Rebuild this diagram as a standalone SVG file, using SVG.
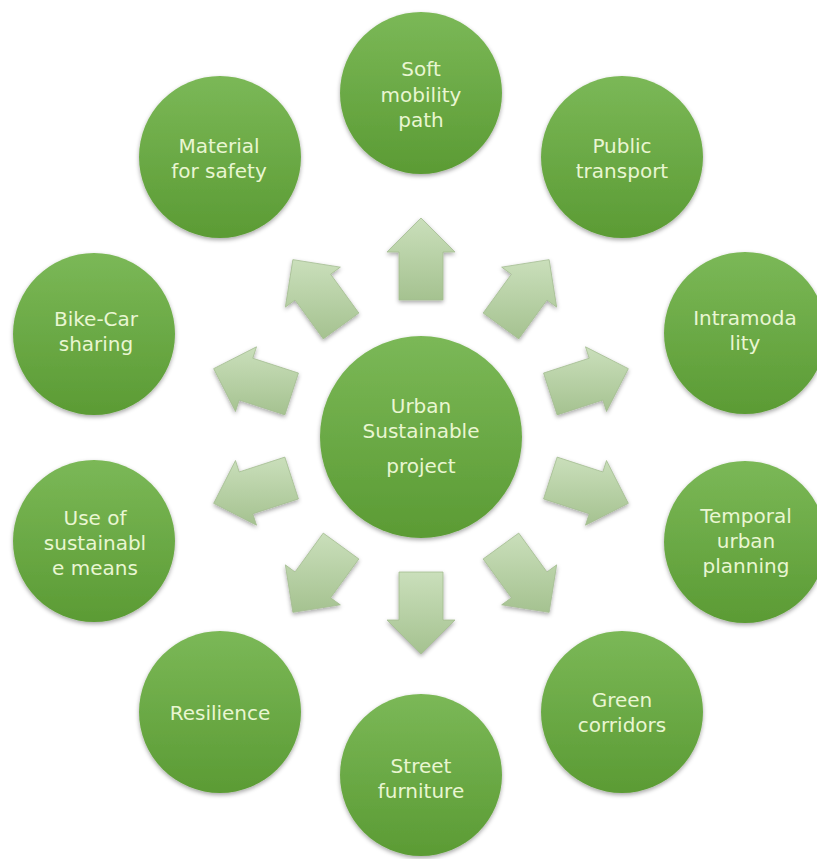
<svg xmlns="http://www.w3.org/2000/svg" width="817" height="859" viewBox="0 0 817 859">
<defs>
<linearGradient id="gCircle" x1="0" y1="0" x2="0" y2="1">
<stop offset="0" stop-color="#7bb857"/>
<stop offset="1" stop-color="#5b9b34"/>
</linearGradient>
<linearGradient id="gArrow" x1="0" y1="0" x2="0" y2="1">
<stop offset="0" stop-color="#cadfbb"/>
<stop offset="1" stop-color="#a5c290"/>
</linearGradient>
<filter id="sh" x="-20%" y="-20%" width="140%" height="140%">
<feDropShadow dx="0" dy="2" stdDeviation="2" flood-color="#000" flood-opacity="0.35"/>
</filter>
</defs>
<style>
.node circle{fill:url(#gCircle);filter:url(#sh)}
.node text{font-family:"DejaVu Sans","Open Sans",sans-serif;font-size:20px;fill:#e9f6d2;text-anchor:middle}
#connectors polygon{fill:url(#gArrow);stroke:#a3bd90;stroke-width:0.8;filter:url(#sh)}
</style>
<rect width="817" height="859" fill="#ffffff"/>
<g id="connectors">
<polygon points="399,300 399,252 387,252 421,218 455,252 443,252 443,300"/>
<polygon points="483.14,313.05 511.36,274.21 501.65,267.15 549.14,259.64 556.67,307.13 546.96,300.07 518.74,338.91"/>
<polygon points="543.55,373.06 589.2,358.22 585.49,346.8 628.34,368.64 606.51,411.48 602.8,400.06 557.15,414.9"/>
<polygon points="557.15,457.1 602.8,471.94 606.51,460.52 628.34,503.36 585.49,525.2 589.2,513.78 543.55,498.94"/>
<polygon points="518.74,533.09 546.96,571.93 556.67,564.87 549.14,612.36 501.65,604.85 511.36,597.79 483.14,558.95"/>
<polygon points="443,572 443,620 455,620 421,654 387,620 399,620 399,572"/>
<polygon points="358.86,558.95 330.64,597.79 340.35,604.85 292.86,612.36 285.33,564.87 295.04,571.93 323.26,533.09"/>
<polygon points="298.45,498.94 252.8,513.78 256.51,525.2 213.66,503.36 235.49,460.52 239.2,471.94 284.85,457.1"/>
<polygon points="284.85,414.9 239.2,400.06 235.49,411.48 213.66,368.64 256.51,346.8 252.8,358.22 298.45,373.06"/>
<polygon points="323.26,338.91 295.04,300.07 285.33,307.13 292.86,259.64 340.35,267.15 330.64,274.21 358.86,313.05"/>
</g>
<g id="center" class="node">
<circle cx="421" cy="437" r="101"/>
<text x="421" y="413">Urban</text>
<text x="421" y="438">Sustainable</text>
<text x="421" y="473">project</text>
</g>
<g id="soft-mobility" class="node">
<circle cx="421" cy="93" r="81"/>
<text x="421" y="76">Soft</text>
<text x="421" y="102">mobility</text>
<text x="421" y="127">path</text>
</g>
<g id="public-transport" class="node">
<circle cx="622" cy="157" r="81"/>
<text x="622" y="153">Public</text>
<text x="622" y="178">transport</text>
</g>
<g id="intramodality" class="node">
<circle cx="745" cy="333" r="81"/>
<text x="745" y="325">Intramoda</text>
<text x="745" y="350">lity</text>
</g>
<g id="temporal" class="node">
<circle cx="745" cy="542" r="81"/>
<text x="746" y="523">Temporal</text>
<text x="746" y="548">urban</text>
<text x="746" y="573">planning</text>
</g>
<g id="green-corridors" class="node">
<circle cx="622" cy="712" r="81"/>
<text x="622" y="707">Green</text>
<text x="622" y="732">corridors</text>
</g>
<g id="street-furniture" class="node">
<circle cx="421" cy="775" r="81"/>
<text x="421" y="773">Street</text>
<text x="421" y="798">furniture</text>
</g>
<g id="resilience" class="node">
<circle cx="220" cy="712" r="81"/>
<text x="220" y="720">Resilience</text>
</g>
<g id="sustainable-means" class="node">
<circle cx="94" cy="541" r="81"/>
<text x="95" y="525">Use of</text>
<text x="95" y="550">sustainabl</text>
<text x="95" y="575">e means</text>
</g>
<g id="bike-car" class="node">
<circle cx="94" cy="334" r="81"/>
<text x="96" y="326">Bike-Car</text>
<text x="96" y="351">sharing</text>
</g>
<g id="material-safety" class="node">
<circle cx="220" cy="157" r="81"/>
<text x="219" y="153">Material</text>
<text x="219" y="178">for safety</text>
</g>
</svg>
